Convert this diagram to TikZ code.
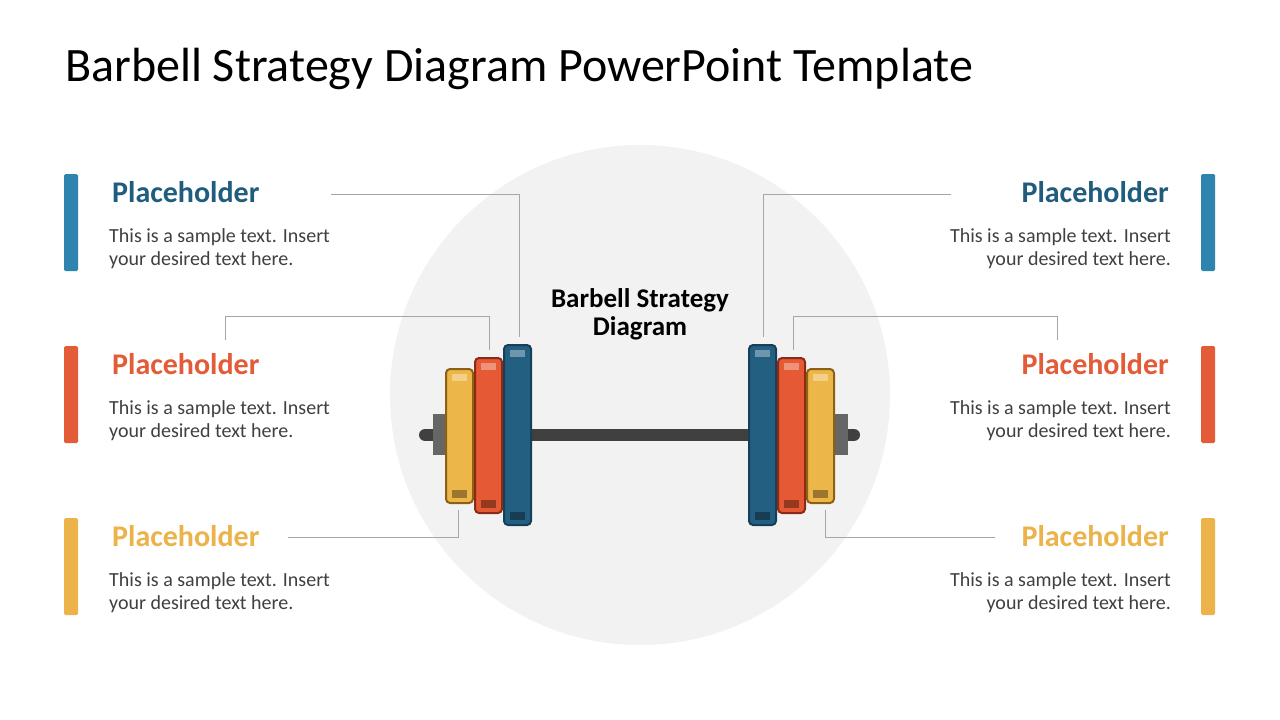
\documentclass[tikz,border=0pt]{standalone}
\usepackage{fontspec}
\setmainfont{Carlito}
\begin{document}
\begin{tikzpicture}[x=1pt,y=-1pt,
  ln/.style={draw=gray!70,line width=0.8pt},
  head/.style={font=\bfseries\fontsize{30}{34}\selectfont,inner sep=0},
  body/.style={font=\fontsize{20}{23}\selectfont,text=black!75,inner sep=0,align=#1},
  plate/.style n args={2}{fill=#1,draw=#2,line width=2pt,rounded corners=4pt}]
\definecolor{cb}{HTML}{2F84AF}\definecolor{cbd}{HTML}{1F5C7E}
\definecolor{cr}{HTML}{E35B37}\definecolor{cy}{HTML}{EBB34A}
\definecolor{pb}{HTML}{225F80}\definecolor{pbd}{HTML}{173F5A}
\definecolor{pr}{HTML}{E55A34}\definecolor{prd}{HTML}{8A2A17}
\definecolor{py}{HTML}{EDB648}\definecolor{pyd}{HTML}{8C6114}
\useasboundingbox (0,0) rectangle (1280,720);
\fill[white] (0,0) rectangle (1280,720);
\node[anchor=west,inner sep=0,font=\fontsize{48}{54}\selectfont] (title) at (65,69) {Barbell Strategy Diagram PowerPoint Template};
\fill[black!5] (640,395) circle (250);
\node[font=\bfseries\fontsize{27}{28}\selectfont,align=center] (center) at (640,314) {Barbell Strategy\\Diagram};
% lines
\draw[ln] (331,194) -- (519,194) -- (519,337);
\draw[ln] (225,340) -- (225,316) -- (489,316) -- (489,350);
\draw[ln] (288,537) -- (458,537) -- (458,510);
\draw[ln] (951,194) -- (763,194) -- (763,337);
\draw[ln] (1057,340) -- (1057,316) -- (793,316) -- (793,350);
\draw[ln] (995,537) -- (825,537) -- (825,510);
% bar
\draw[line width=12pt,line cap=round,color=black!75] (425,435) -- (854,435);
\fill[black!60] (433,414) rectangle (447,455);
\fill[black!60] (834,414) rectangle (848,455);
% plates
\foreach \x/\t/\b/\c/\d in {446/369/503/py/pyd,475/358/513/pr/prd,504/345/525/pb/pbd,749/345/525/pb/pbd,778/358/513/pr/prd,807/369/503/py/pyd}{
  \draw[plate={\c}{\d}] (\x,\t) rectangle (\x+27,\b);
  \fill[white,opacity=0.35] (\x+6,\t+5) rectangle (\x+21,\t+12);
  \fill[black,opacity=0.35] (\x+6,\b-13) rectangle (\x+21,\b-5);
}
% side blocks
\foreach \y/\c/\h in {174/cb/cbd,346/cr/cr,518/cy/cy}{
  \fill[\c,rounded corners=1.5pt] (64,\y) rectangle (78,\y+97);
  \fill[\c,rounded corners=1.5pt] (1201,\y) rectangle (1215,\y+97);
  \node[head,text=\h,anchor=west] at (112,\y+18) {Placeholder};
  \node[head,text=\h,anchor=east] at (1169,\y+18) {Placeholder};
  \node[body=left,anchor=west] at (109,\y+75) {This is a sample text. Insert\\your desired text here.};
  \node[body=right,anchor=east] at (1171,\y+75) {This is a sample text. Insert\\your desired text here.};
}
\end{tikzpicture}
\end{document}
